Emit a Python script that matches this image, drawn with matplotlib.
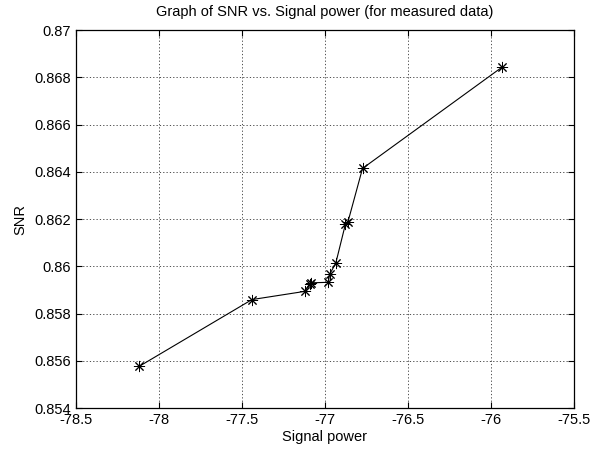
"""
SNR against signal power for the measured data
"""
import numpy as np
import matplotlib
matplotlib.use("Agg")
import matplotlib.pyplot as plt
from matplotlib.ticker import FuncFormatter

plt.rcParams['font.family'] = ['Liberation Sans', 'DejaVu Sans']
plt.rcParams['axes.unicode_minus'] = False  # plain hyphen for negative ticks

# measured points (signal power, SNR)
signal_power = [-78.12, -77.44, -77.119, -77.093, -77.085, -76.980,
                -76.972, -76.935, -76.877, -76.862, -76.774, -75.931]
snr = [0.85576, 0.85859, 0.85894, 0.85927, 0.85930, 0.85932,
       0.85966, 0.86013, 0.86178, 0.86187, 0.86414, 0.86844]

x_ticks = [-78.5, -78, -77.5, -77, -76.5, -76, -75.5]
y_ticks = [0.854, 0.856, 0.858, 0.86, 0.862, 0.864, 0.866, 0.868, 0.87]

fs = 10.5

fig = plt.figure(figsize=(5.91, 4.5), dpi=100)
ax = fig.add_axes([0.1286, 0.0933, 0.8426, 0.8400])

# '*' in matlab is an asterisk (plus and cross), not a filled star
ax.plot(signal_power, snr, color='black', linewidth=0.8, marker=(8, 2, 0),
        markersize=8, markeredgewidth=0.7)

ax.set_xlim(x_ticks[0], x_ticks[-1])
ax.set_ylim(y_ticks[0], y_ticks[-1])
ax.set_xticks(x_ticks)
ax.set_yticks(y_ticks)
ax.xaxis.set_major_formatter(FuncFormatter(lambda v, p: '%g' % v))
ax.yaxis.set_major_formatter(FuncFormatter(lambda v, p: '%g' % v))

# matlab style: ticks inside on all four sides, dotted grid
ax.tick_params(direction='in', length=4, width=0.8, labelsize=fs,
               top=True, right=True, colors='black')
ax.tick_params(axis='x', pad=3.5)
ax.tick_params(axis='y', pad=3.5)
ax.grid(True, color='#333333', linestyle=(0, (1.5, 2.5)), linewidth=0.6)
for s in ax.spines.values():
    s.set_linewidth(0.9)

ax.set_title('Graph of SNR vs. Signal power (for measured data)', fontsize=fs, pad=10)
ax.set_xlabel('Signal power', fontsize=fs, labelpad=2)
ax.set_ylabel('SNR', fontsize=fs, labelpad=5)

fig.savefig('out.png', dpi=100)
